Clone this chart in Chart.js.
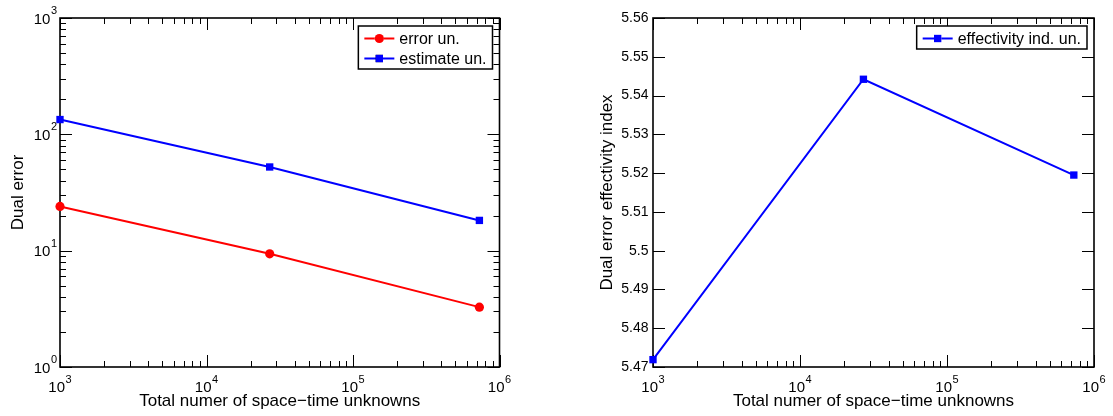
<!DOCTYPE html>
<html>
<head>
<meta charset="utf-8">
<script src="https://cdn.jsdelivr.net/npm/chart.js@4.4.1/dist/chart.umd.min.js"></script>
<style>
  html, body { margin: 0; padding: 0; background: #fff; }
  #wrap { position: relative; width: 1113px; height: 416px; }
  canvas { position: absolute; top: 0; }
  #errChart { left: 0; }
  #effChart { left: 556px; }
</style>
</head>
<body>
<div id="wrap">
  <canvas id="errChart" width="556" height="416"></canvas>
  <canvas id="effChart" width="557" height="416"></canvas>
</div>
<script>
// data
const unknowns = [1000, 27000, 729000];
const errorUn = [24.0, 9.4, 3.27];
const estimateUn = [134, 52.4, 18.2];
const effectivityUn = [5.4719, 5.5442, 5.5195];

// tick labels
const unknownTicks = [1e3, 1e4, 1e5, 1e6];
const errorTicks = [1, 10, 100, 1000];
const effTicks = [5.47, 5.48, 5.49, 5.5, 5.51, 5.52, 5.53, 5.54, 5.55, 5.56];

const xTitle = 'Total numer of space\u2212time unknowns';
const FONT = 'Liberation Sans, Arial, Helvetica, sans-serif';

Chart.defaults.color = '#000';
Chart.defaults.font.family = FONT;
Chart.defaults.font.size = 17;

function pairs(xs, ys) {
    return xs.map((x, i) => ({ x: x, y: ys[i] }));
}

// minor positions between decades (2..9 x 10^k)
function minorLog(majors) {
    const out = [];
    for (let i = 0; i < majors.length - 1; i++) {
        for (let m = 2; m < 10; m++) out.push(majors[i] * m);
    }
    return out;
}

// "10" with a raised exponent, baseline y, anchored center or right
function drawPow(ctx, v, x, y, align) {
    const base = '10';
    const exp = String(Math.round(Math.log10(v)));
    ctx.font = '15px ' + FONT;
    const wb = ctx.measureText(base).width;
    ctx.font = '11px ' + FONT;
    const we = ctx.measureText(exp).width + 0.5;
    const x0 = align === 'center' ? x - (wb + we) / 2 : x - wb - we;
    ctx.textAlign = 'left';
    ctx.textBaseline = 'alphabetic';
    ctx.fillStyle = '#000';
    ctx.font = '15px ' + FONT;
    ctx.fillText(base, x0, y);
    ctx.font = '11px ' + FONT;
    ctx.fillText(exp, x0 + wb + 0.5, y - 9.5);
}

// box + inward ticks on all four sides, plus power-of-ten labels
const framePlugin = {
    id: 'frame',
    beforeDatasetsDraw(chart, args, opts) {
        const { ctx, chartArea: a, scales } = chart;
        const xs = scales.x, ys = scales.y;
        ctx.save();
        ctx.strokeStyle = '#000';
        ctx.lineWidth = 1;
        ctx.beginPath();
        const vtick = (v, len) => {
            const px = Math.round(xs.getPixelForValue(v)) + 0.5;
            ctx.moveTo(px, a.bottom); ctx.lineTo(px, a.bottom - len);
            ctx.moveTo(px, a.top); ctx.lineTo(px, a.top + len);
        };
        const htick = (v, len) => {
            const py = Math.round(ys.getPixelForValue(v)) + 0.5;
            ctx.moveTo(a.left, py); ctx.lineTo(a.left + len, py);
            ctx.moveTo(a.right, py); ctx.lineTo(a.right - len, py);
        };
        xs.ticks.forEach(t => vtick(t.value, 12));
        ys.ticks.forEach(t => htick(t.value, 12));
        if (opts.minorX) minorLog(xs.ticks.map(t => t.value)).forEach(v => vtick(v, 6));
        if (opts.minorY) minorLog(ys.ticks.map(t => t.value)).forEach(v => htick(v, 6));
        ctx.stroke();
        ctx.lineWidth = 1.6;
        ctx.strokeRect(a.left, a.top, a.right - a.left, a.bottom - a.top);

        if (opts.powX) {
            xs.ticks.forEach(t => drawPow(ctx, t.value, xs.getPixelForValue(t.value), a.bottom + 25, 'center'));
        }
        if (opts.powY) {
            ys.ticks.forEach(t => drawPow(ctx, t.value, a.left - 3, ys.getPixelForValue(t.value) + 5.5, 'right'));
        }
        ctx.restore();
    }
};

// boxed legend in the top right corner of the plot
const boxLegend = {
    id: 'boxLegend',
    afterDatasetsDraw(chart) {
        const { ctx, chartArea: a } = chart;
        const sets = chart.data.datasets;
        ctx.save();
        ctx.font = '16px ' + FONT;
        let tw = 0;
        sets.forEach(d => { tw = Math.max(tw, ctx.measureText(d.label).width); });
        const w = 41 + tw + 6;
        const h = 23 + 20 * (sets.length - 1);
        const bx = a.right - 7 - w;
        const by = a.top + 8;
        ctx.fillStyle = '#fff';
        ctx.fillRect(bx, by, w, h);
        ctx.strokeStyle = '#000';
        ctx.lineWidth = 1.5;
        ctx.strokeRect(bx, by, w, h);
        sets.forEach((d, i) => {
            const cy = by + 12.5 + i * 20;
            ctx.strokeStyle = d.borderColor;
            ctx.lineWidth = d.borderWidth;
            ctx.beginPath();
            ctx.moveTo(bx + 6, cy);
            ctx.lineTo(bx + 36, cy);
            ctx.stroke();
            Chart.helpers.drawPoint(ctx, { pointStyle: d.pointStyle, radius: d.pointRadius, borderWidth: 0, rotation: 0 }, bx + 21, cy);
            ctx.fillStyle = d.pointBackgroundColor;
            ctx.fill();
            ctx.fillStyle = '#000';
            ctx.textBaseline = 'middle';
            ctx.textAlign = 'left';
            ctx.fillText(d.label, bx + 41, cy + 1);
        });
        ctx.restore();
    }
};

function logX() {
    return {
        type: 'logarithmic',
        min: 1e3,
        max: 1e6,
        afterBuildTicks: s => { s.ticks = unknownTicks.map(v => ({ value: v })); },
        afterFit: s => { s.height = 49; },
        grid: { display: false, drawTicks: false },
        border: { display: false },
        ticks: { display: false },
        title: { display: true, text: xTitle, padding: { top: 0, bottom: 4 } }
    };
}

function lineSet(label, xs, ys, color, style, radius) {
    return {
        label: label,
        data: pairs(xs, ys),
        borderColor: color,
        backgroundColor: color,
        pointBackgroundColor: color,
        pointBorderWidth: 0,
        pointStyle: style,
        pointRadius: radius,
        borderWidth: 2,
        clip: false
    };
}

document.addEventListener('DOMContentLoaded', function() {
    // Dual error, log-log
    new Chart(document.getElementById('errChart').getContext('2d'), {
        type: 'line',
        data: {
            datasets: [
                lineSet('error un.', unknowns, errorUn, '#ff0000', 'circle', 4.6),
                lineSet('estimate un.', unknowns, estimateUn, '#0000ff', 'rect', 5.2)
            ]
        },
        options: {
            responsive: false,
            animation: false,
            layout: { padding: { top: 18, right: 56.5, bottom: 0, left: 0 } },
            scales: {
                x: logX(),
                y: {
                    type: 'logarithmic',
                    min: 1,
                    max: 1000,
                    afterBuildTicks: s => { s.ticks = errorTicks.map(v => ({ value: v })); },
                    afterFit: s => { s.width = 60; },
                    grid: { display: false, drawTicks: false },
                    border: { display: false },
                    ticks: { display: false },
                    title: { display: true, text: 'Dual error', padding: { top: 8.3, bottom: 0 } }
                }
            },
            plugins: {
                legend: { display: false },
                tooltip: { enabled: false },
                frame: { minorX: true, minorY: true, powX: true, powY: true }
            }
        },
        plugins: [framePlugin, boxLegend]
    });

    // effectivity index
    new Chart(document.getElementById('effChart').getContext('2d'), {
        type: 'line',
        data: {
            datasets: [
                lineSet('effectivity ind. un.', unknowns, effectivityUn, '#0000ff', 'rect', 5.2)
            ]
        },
        options: {
            responsive: false,
            animation: false,
            layout: { padding: { top: 18, right: 19, bottom: 0, left: 0 } },
            scales: {
                x: logX(),
                y: {
                    type: 'linear',
                    min: 5.47,
                    max: 5.56,
                    afterBuildTicks: s => { s.ticks = effTicks.map(v => ({ value: v })); },
                    afterFit: s => { s.width = 97; },
                    grid: { display: false, drawTicks: false },
                    border: { display: false },
                    ticks: { callback: v => String(Number(v.toFixed(2))), padding: 4.5, font: { size: 14 } },
                    title: { display: true, text: 'Dual error effectivity index', padding: { top: 40.8, bottom: 0 } }
                }
            },
            plugins: {
                legend: { display: false },
                tooltip: { enabled: false },
                frame: { minorX: true, minorY: false, powX: true, powY: false }
            }
        },
        plugins: [framePlugin, boxLegend]
    });
});
</script>
</body>
</html>
